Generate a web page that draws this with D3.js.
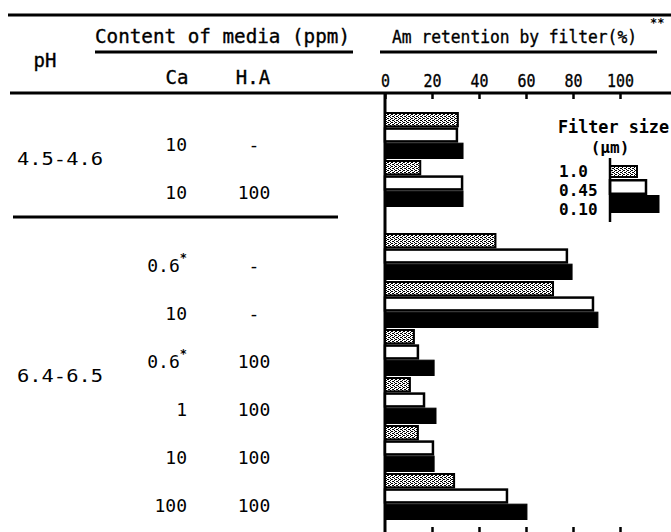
<!DOCTYPE html>
<html>
<head>
<meta charset="utf-8">
<script src="https://cdn.jsdelivr.net/npm/d3@7"></script>
<style>
  html, body { margin: 0; padding: 0; background: #fff; }
  svg { display: block; }
  text { font-family: "DejaVu Sans Mono", monospace; fill: #000; }
  .heavy { stroke: #000; stroke-width: 0.35; }
</style>
</head>
<body>
<svg id="chart" width="671" height="532"></svg>
<script>
// ---- data ----
const phLabels = ["4.5-4.6", "6.4-6.5"];
const rowPH = [0, 0, 1, 1, 1, 1, 1, 1];
const caValues = ["10", "10", "0.6", "10", "0.6", "1", "10", "100"];
const caStar = [false, false, true, false, true, false, false, false];
const haValues = ["-", "100", "-", "-", "100", "100", "100", "100"];
const filterSizes = ["1.0", "0.45", "0.10"];
const ret1_0 = [31, 15, 47, 71.5, 12.3, 10.6, 14, 29.4];
const ret0_45 = [30.6, 32.8, 77.4, 88.5, 14, 16.6, 20.4, 51.9];
const ret0_10 = [33.2, 33.2, 79.6, 90.6, 20.9, 21.7, 20.9, 60.4];
const xTicks = [0, 20, 40, 60, 80, 100];

// ---- setup ----
const svg = d3.select("#chart");
const defs = svg.append("defs");
const pat = defs.append("pattern").attr("id", "dots")
  .attr("width", 4).attr("height", 4).attr("patternUnits", "userSpaceOnUse");
pat.append("rect").attr("width", 4).attr("height", 4).attr("fill", "#fff");
[[0,0],[1,0],[2,1],[0,2],[3,2],[2,3]].forEach(([a,b]) =>
  pat.append("rect").attr("x", a).attr("y", b).attr("width", 1).attr("height", 1).attr("fill", "#000"));

const x = d3.scaleLinear().domain([0, 100]).range([385, 620]);
const seriesVals = [ret1_0, ret0_45, ret0_10];
const sub = d3.scaleBand().domain(d3.range(3)).range([0, 46]).padding(0);
const groupTop = i => 112 + i * 48 + rowPH[i] * 25;
const groupCenter = i => groupTop(i) + 23;

const styles = [
  { fill: "url(#dots)", stroke: "#000", sw: 2 },
  { fill: "#fff", stroke: "#000", sw: 2.5 },
  { fill: "#000", stroke: "#000", sw: 1 }
];

// ---- rules ----
const line = (x1, y1, x2, y2, w) => svg.append("line")
  .attr("x1", x1).attr("y1", y1).attr("x2", x2).attr("y2", y2)
  .attr("stroke", "#000").attr("stroke-width", w);
line(8, 15, 671, 15, 3);
line(95, 52, 353, 52, 3);
line(380, 52, 657, 52, 3);
line(10, 93, 671, 93, 3);
line(13, 217, 338, 217, 3);
line(385, 93, 385, 532, 3);

// ---- headers ----
svg.append("text").attr("class", "heavy").attr("x", 45).attr("y", 67).attr("text-anchor", "middle")
  .attr("font-size", 19).text("pH");
svg.append("text").attr("class", "heavy").attr("x", 95).attr("y", 43).attr("font-size", 19)
  .attr("textLength", 255).attr("lengthAdjust", "spacingAndGlyphs")
  .text("Content of media (ppm)");
svg.append("text").attr("class", "heavy").attr("x", 177).attr("y", 84).attr("text-anchor", "middle")
  .attr("font-size", 19).text("Ca");
svg.append("text").attr("class", "heavy").attr("x", 253).attr("y", 84).attr("text-anchor", "middle")
  .attr("font-size", 19).text("H.A");
svg.append("text").attr("class", "heavy").attr("x", 392).attr("y", 43).attr("font-size", 17)
  .attr("textLength", 245).attr("lengthAdjust", "spacingAndGlyphs")
  .text("Am retention by filter(%)");
svg.append("text").attr("x", 650).attr("y", 27).attr("font-size", 12)
  .attr("font-weight", "bold").text("**");

// ---- axes ----
const topAxis = d3.axisTop(x).tickValues(xTicks).tickSizeInner(-6).tickSizeOuter(0).tickPadding(6);
const gTop = svg.append("g").attr("transform", "translate(0,93)").call(topAxis);
gTop.select(".domain").remove();
gTop.selectAll(".tick line").attr("stroke", "#000").attr("stroke-width", 2.5);
gTop.selectAll(".tick text").attr("class", "heavy").attr("font-family", "DejaVu Sans Mono")
  .attr("font-size", 18).attr("fill", "#000")
  .attr("textLength", d => String(d).length * 9).attr("lengthAdjust", "spacingAndGlyphs");

const botAxis = d3.axisBottom(x).tickValues(xTicks.slice(1)).tickSizeInner(-7).tickSizeOuter(0).tickFormat("");
const gBot = svg.append("g").attr("transform", "translate(0,534)").call(botAxis);
gBot.select(".domain").remove();
gBot.selectAll(".tick line").attr("stroke", "#000").attr("stroke-width", 2.5);

// ---- bars ----
const groupsG = svg.append("g").selectAll("g").data(d3.range(caValues.length)).join("g")
  .attr("transform", i => `translate(0,${groupTop(i)})`);
groupsG.selectAll("rect").data(i => seriesVals.map((s, k) => ({ k, v: s[i] }))).join("rect")
  .attr("x", x(0))
  .attr("y", d => sub(d.k) + styles[d.k].sw / 2)
  .attr("width", d => x(d.v) - x(0))
  .attr("height", d => sub.bandwidth() - styles[d.k].sw + (d.k === 2 ? 1 : 0))
  .attr("fill", d => styles[d.k].fill)
  .attr("stroke", d => styles[d.k].stroke)
  .attr("stroke-width", d => styles[d.k].sw);

// ---- table ----
const rowsG = svg.append("g").selectAll("g").data(d3.range(caValues.length)).join("g");
const caText = rowsG.append("text").attr("x", 187).attr("y", i => groupCenter(i) + 16)
  .attr("text-anchor", "end").attr("font-size", 18)
  .text(i => caValues[i]);
caText.filter(i => caStar[i]).append("tspan").attr("dy", -10).attr("font-size", 12)
  .attr("font-weight", "bold").text("*");
rowsG.append("text").attr("x", 254).attr("y", i => groupCenter(i) + 16)
  .attr("text-anchor", "middle").attr("font-size", 18)
  .text(i => haValues[i]);

phLabels.forEach((lab, b) => {
  const idx = d3.range(rowPH.length).filter(i => rowPH[i] === b);
  const cy = d3.mean([groupCenter(idx[0]), groupCenter(idx[idx.length - 1])]);
  svg.append("text").attr("x", 17).attr("y", cy + 6).attr("font-size", 18)
    .attr("textLength", 86).attr("lengthAdjust", "spacingAndGlyphs").text(lab);
});

// ---- legend ----
const lg = svg.append("g");
lg.append("text").attr("x", 558).attr("y", 133).attr("font-family", "Liberation Mono")
  .attr("font-weight", "bold").attr("font-size", 17)
  .attr("textLength", 111).attr("lengthAdjust", "spacingAndGlyphs").text("Filter size");
lg.append("text").attr("x", 610).attr("y", 153).attr("text-anchor", "middle")
  .attr("font-family", "Liberation Mono").attr("font-weight", "bold").attr("font-size", 16).text("(μm)");
const lgTop = [165, 179, 195];
const lgH = [13, 16, 18];
const lgLen = [27, 36, 49];
filterSizes.forEach((f, k) => {
  lg.append("text").attr("x", 559).attr("y", [177, 196, 215][k]).attr("font-family", "Liberation Mono")
    .attr("font-weight", "bold").attr("font-size", 16).text(f);
  lg.append("rect").attr("x", 610).attr("y", lgTop[k] + styles[k].sw / 2)
    .attr("width", lgLen[k]).attr("height", lgH[k] - styles[k].sw)
    .attr("fill", styles[k].fill).attr("stroke", styles[k].stroke).attr("stroke-width", styles[k].sw);
});
lg.append("line").attr("x1", 610).attr("y1", 158).attr("x2", 610).attr("y2", 222)
  .attr("stroke", "#000").attr("stroke-width", 2.5);
</script>
</body>
</html>
